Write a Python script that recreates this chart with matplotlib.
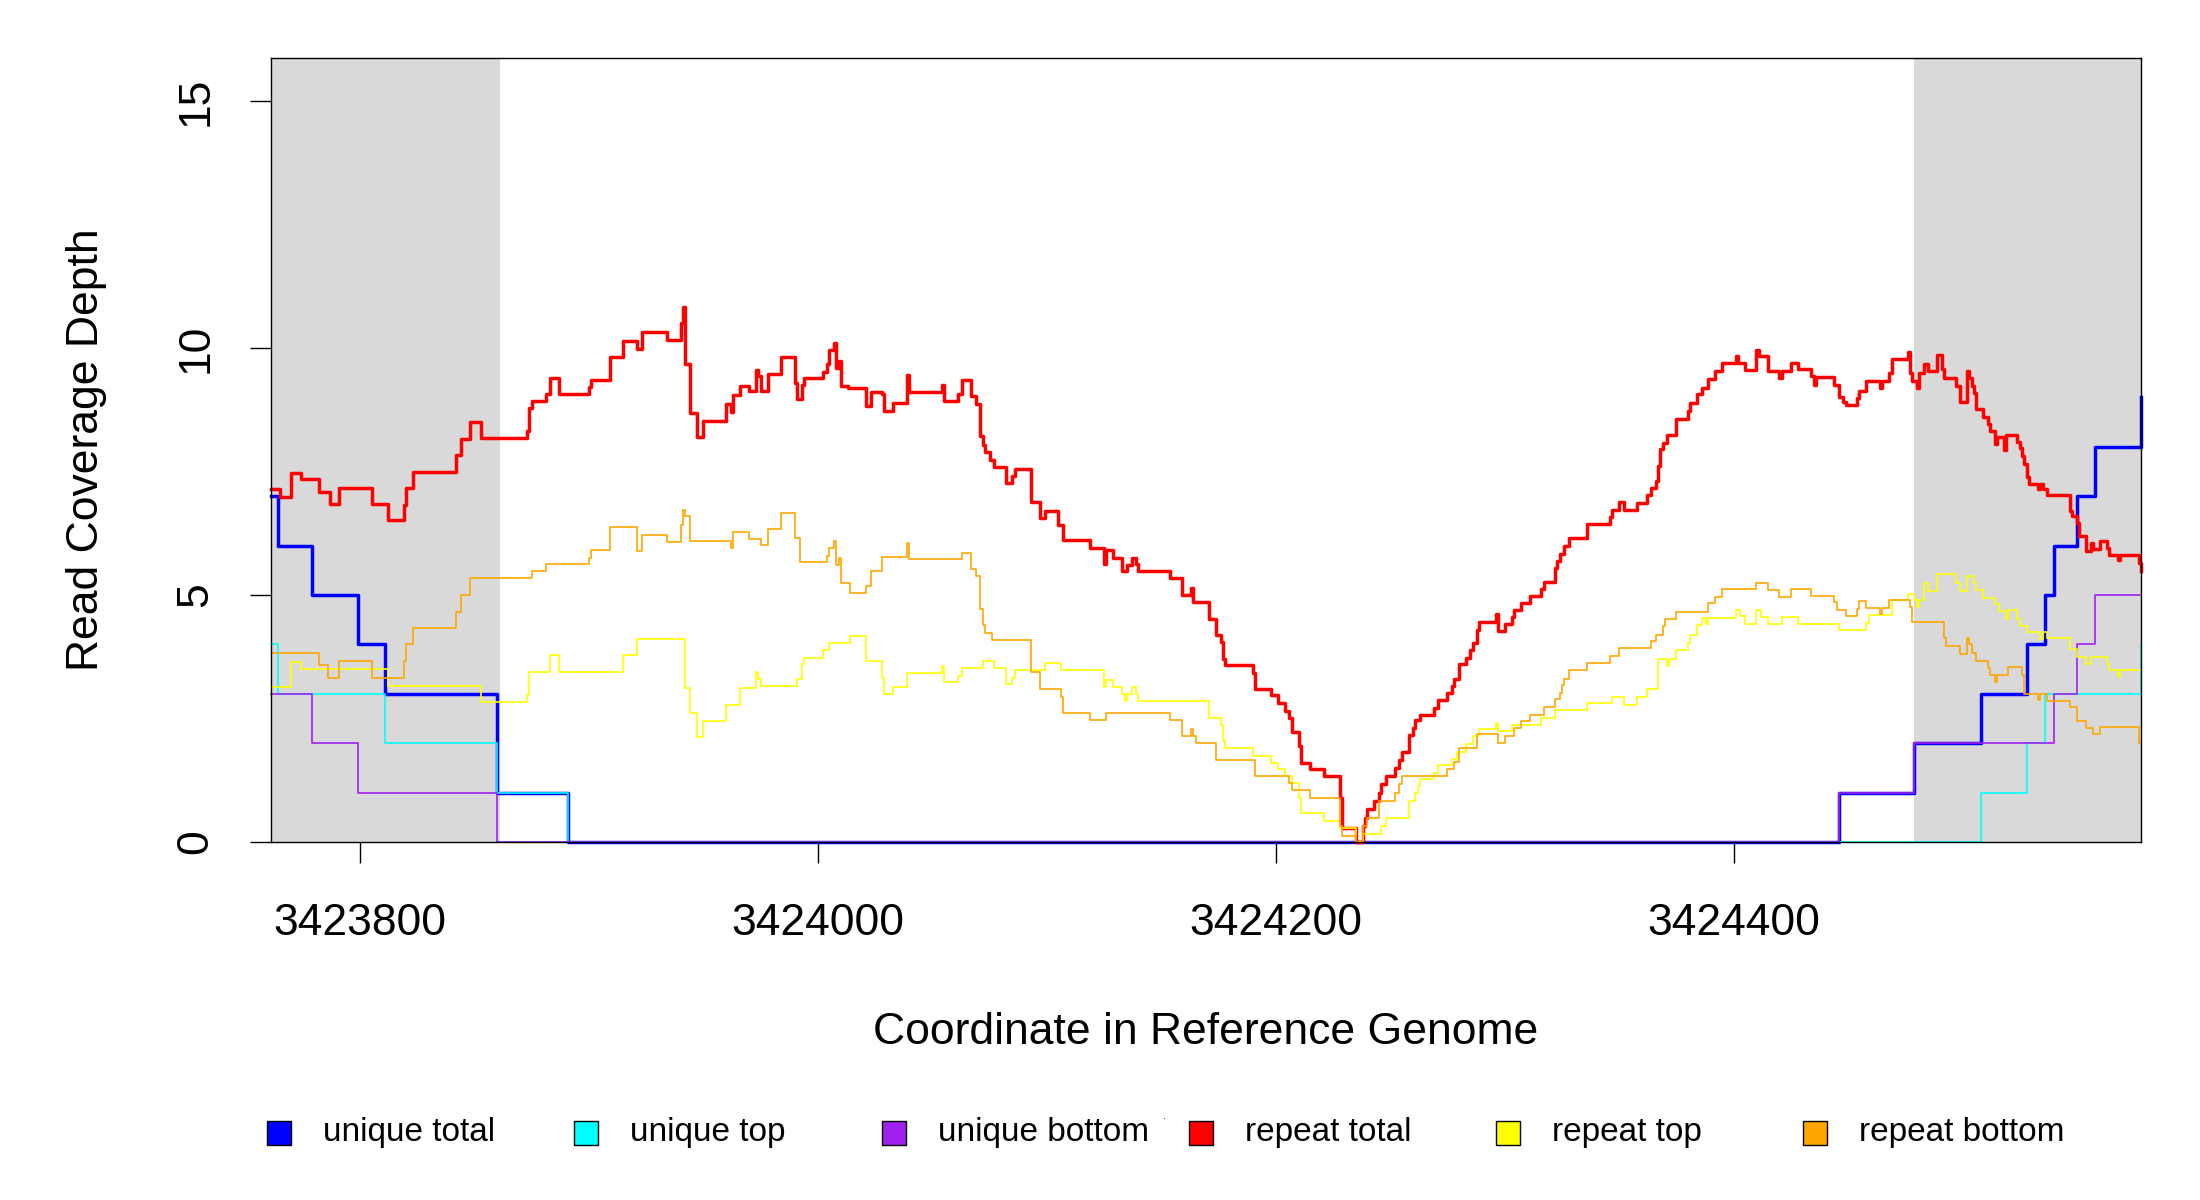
import matplotlib
matplotlib.use("Agg")
import matplotlib.pyplot as plt
from matplotlib.patches import Rectangle

plt.rcParams['font.family'] = ['Liberation Sans', 'DejaVu Sans']

# region shown, and the two 100 bp flanks shaded grey
x_start, x_end = 3423761, 3424578
flank_left = (3423761, 3423861)
flank_right = (3424479, 3424578)
x_ticks = [3423800, 3424000, 3424200, 3424400]
y_ticks = [0, 5, 10, 15]

# step data: depth holds from pos[i] up to pos[i+1]
unique_total_pos = [3423761, 3423764, 3423779, 3423799, 3423811, 3423860, 3423891,
                    3424446, 3424479, 3424508, 3424528, 3424536, 3424540, 3424550,
                    3424558, 3424578]
unique_total_depth = [7, 6, 5, 4, 3, 1, 0, 1, 2, 3, 4, 5, 6, 7, 8, 9]

unique_top_pos = [3423761, 3423764, 3423811, 3423860, 3423891, 3424508, 3424528,
                  3424536, 3424578]
unique_top_depth = [4, 3, 2, 1, 0, 1, 2, 3, 4]

unique_bottom_pos = [3423761, 3423779, 3423799, 3423860, 3424446, 3424479, 3424540,
                     3424550, 3424558, 3424578]
unique_bottom_depth = [3, 2, 1, 0, 1, 2, 3, 4, 5, 5]

repeat_total_pos = [
    3423761, 3423765, 3423770, 3423774, 3423782, 3423787, 3423791, 3423805, 3423812,
    3423819, 3423820, 3423823, 3423842, 3423844, 3423848, 3423853, 3423873, 3423874,
    3423875, 3423881, 3423883, 3423887, 3423900, 3423901, 3423909, 3423915, 3423921,
    3423923, 3423934, 3423940, 3423941, 3423942, 3423944, 3423947, 3423950, 3423960,
    3423962, 3423963, 3423966, 3423970, 3423973, 3423974, 3423975, 3423978, 3423984,
    3423990, 3423991, 3423993, 3423994, 3424002, 3424004, 3424005, 3424007, 3424008,
    3424009, 3424010, 3424013, 3424021, 3424023, 3424028, 3424029, 3424033, 3424039,
    3424040, 3424054, 3424055, 3424061, 3424063, 3424067, 3424069, 3424071, 3424072,
    3424073, 3424075, 3424077, 3424082, 3424085, 3424086, 3424093, 3424097, 3424099,
    3424105, 3424107, 3424119, 3424125, 3424126, 3424129, 3424133, 3424135, 3424137,
    3424139, 3424140, 3424154, 3424159, 3424163, 3424164, 3424171, 3424174, 3424176,
    3424177, 3424178, 3424190, 3424191, 3424198, 3424201, 3424204, 3424206, 3424207,
    3424210, 3424211, 3424215, 3424221, 3424228, 3424229, 3424235, 3424238, 3424239,
    3424240, 3424243, 3424245, 3424246, 3424248, 3424252, 3424254, 3424255, 3424258,
    3424260, 3424261, 3424263, 3424269, 3424271, 3424275, 3424277, 3424278, 3424280,
    3424283, 3424285, 3424286, 3424288, 3424289, 3424296, 3424297, 3424300, 3424303,
    3424304, 3424307, 3424311, 3424316, 3424317, 3424322, 3424323, 3424324, 3424326,
    3424328, 3424336, 3424346, 3424347, 3424350, 3424352, 3424358, 3424362, 3424364,
    3424366, 3424367, 3424368, 3424369, 3424371, 3424375, 3424380, 3424381, 3424384,
    3424386, 3424389, 3424392, 3424395, 3424401, 3424402, 3424405, 3424410, 3424411,
    3424415, 3424420, 3424421, 3424425, 3424428, 3424434, 3424435, 3424436, 3424444,
    3424446, 3424448, 3424449, 3424454, 3424455, 3424458, 3424464, 3424465, 3424468,
    3424469, 3424476, 3424477, 3424478, 3424480, 3424481, 3424483, 3424485, 3424489,
    3424491, 3424492, 3424497, 3424499, 3424502, 3424503, 3424504, 3424505, 3424506,
    3424509, 3424511, 3424512, 3424514, 3424515, 3424518, 3424519, 3424524, 3424525,
    3424526, 3424527, 3424528, 3424529, 3424533, 3424534, 3424535, 3424537, 3424547,
    3424548, 3424550, 3424551, 3424554, 3424556, 3424557, 3424560, 3424563, 3424564,
    3424568, 3424569, 3424577, 3424578]
repeat_total_depth = [
    7.15, 6.98, 7.47, 7.34, 7.09, 6.84, 7.17, 6.85, 6.51,
    6.83, 7.16, 7.49, 7.83, 8.16, 8.50, 8.17, 8.33, 8.78,
    8.92, 9.07, 9.40, 9.07, 9.21, 9.35, 9.81, 10.15, 9.98,
    10.32, 10.16, 10.50, 10.84, 9.68, 8.69, 8.19, 8.52, 8.86,
    8.71, 9.04, 9.23, 9.14, 9.56, 9.43, 9.14, 9.48, 9.81,
    9.30, 8.96, 9.25, 9.40, 9.52, 9.67, 9.97, 10.10, 9.60,
    9.73, 9.24, 9.20, 8.83, 9.12, 9.06, 8.73, 8.88, 9.45,
    9.12, 9.25, 8.93, 9.06, 9.36, 9.03, 8.87, 8.22, 8.04,
    7.89, 7.74, 7.60, 7.26, 7.41, 7.55, 6.89, 6.56, 6.70,
    6.41, 6.11, 5.96, 5.62, 5.91, 5.76, 5.49, 5.60, 5.76,
    5.62, 5.49, 5.34, 5.00, 5.15, 4.86, 4.52, 4.20, 4.04,
    3.70, 3.58, 3.43, 3.09, 2.97, 2.81, 2.65, 2.52, 2.23,
    1.94, 1.61, 1.47, 1.34, 0.90, 0.28, 0.00, 0.32, 0.49,
    0.66, 0.83, 1.00, 1.17, 1.34, 1.50, 1.67, 1.83, 2.16,
    2.31, 2.47, 2.58, 2.72, 2.87, 3.02, 3.16, 3.31, 3.60,
    3.73, 3.89, 4.02, 4.30, 4.45, 4.61, 4.27, 4.41, 4.56,
    4.70, 4.84, 4.98, 5.13, 5.26, 5.55, 5.69, 5.84, 5.99,
    6.15, 6.44, 6.59, 6.72, 6.88, 6.72, 6.87, 7.02, 7.17,
    7.31, 7.61, 7.95, 8.08, 8.23, 8.56, 8.72, 8.89, 9.06,
    9.20, 9.38, 9.53, 9.70, 9.83, 9.70, 9.55, 9.97, 9.84,
    9.54, 9.40, 9.54, 9.69, 9.57, 9.43, 9.26, 9.42, 9.26,
    9.00, 8.90, 8.84, 8.99, 9.14, 9.33, 9.19, 9.33, 9.50,
    9.77, 9.93, 9.50, 9.33, 9.19, 9.50, 9.67, 9.54, 9.86,
    9.57, 9.40, 9.23, 8.91, 9.54, 9.40, 9.23, 9.09, 8.77,
    8.61, 8.46, 8.32, 8.05, 8.20, 7.93, 8.24, 8.10, 7.97,
    7.82, 7.66, 7.39, 7.25, 7.15, 7.25, 7.15, 7.02, 6.70,
    6.61, 6.46, 6.20, 5.90, 6.05, 5.93, 6.09, 5.95, 5.82,
    5.71, 5.82, 5.65, 5.49]

repeat_top_pos = [
    3423761, 3423770, 3423774, 3423812, 3423853, 3423873, 3423874, 3423883, 3423887,
    3423915, 3423921, 3423942, 3423944, 3423947, 3423950, 3423960, 3423966, 3423973,
    3423974, 3423975, 3423991, 3423993, 3423994, 3424002, 3424005, 3424014, 3424021,
    3424028, 3424029, 3424033, 3424039, 3424054, 3424055, 3424061, 3424063, 3424072,
    3424077, 3424082, 3424085, 3424086, 3424099, 3424106, 3424125, 3424126, 3424129,
    3424133, 3424134, 3424135, 3424137, 3424139, 3424140, 3424171, 3424176, 3424177,
    3424178, 3424190, 3424198, 3424201, 3424204, 3424207, 3424210, 3424211, 3424221,
    3424228, 3424235, 3424238, 3424246, 3424248, 3424258, 3424261, 3424262, 3424263,
    3424269, 3424271, 3424277, 3424279, 3424283, 3424286, 3424289, 3424296, 3424297,
    3424303, 3424316, 3424322, 3424336, 3424347, 3424352, 3424358, 3424362, 3424367,
    3424371, 3424372, 3424375, 3424380, 3424381, 3424384, 3424386, 3424388, 3424389,
    3424401, 3424403, 3424405, 3424410, 3424412, 3424415, 3424421, 3424428, 3424446,
    3424458, 3424459, 3424469, 3424476, 3424479, 3424480, 3424481, 3424483, 3424485,
    3424489, 3424497, 3424499, 3424502, 3424505, 3424506, 3424509, 3424514, 3424516,
    3424519, 3424520, 3424524, 3424525, 3424528, 3424534, 3424535, 3424537, 3424547,
    3424550, 3424554, 3424556, 3424563, 3424564, 3424568, 3424569, 3424578]
repeat_top_depth = [
    3.14, 3.64, 3.50, 3.16, 2.84, 2.97, 3.45, 3.79, 3.45,
    3.79, 4.12, 3.11, 2.62, 2.13, 2.45, 2.77, 3.11, 3.44,
    3.31, 3.16, 3.31, 3.60, 3.73, 3.88, 4.02, 4.17, 3.66,
    3.33, 3.00, 3.14, 3.43, 3.56, 3.24, 3.37, 3.52, 3.66,
    3.52, 3.19, 3.33, 3.48, 3.62, 3.48, 3.14, 3.28, 3.14,
    2.99, 2.85, 2.99, 3.14, 2.99, 2.85, 2.52, 2.37, 2.04,
    1.91, 1.75, 1.61, 1.47, 1.34, 1.19, 0.90, 0.58, 0.43,
    0.29, 0.00, 0.16, 0.32, 0.49, 0.83, 1.00, 1.13, 1.27,
    1.40, 1.55, 1.69, 1.82, 1.98, 2.15, 2.28, 2.40, 2.25,
    2.37, 2.52, 2.67, 2.81, 2.94, 2.77, 2.94, 3.09, 3.71,
    3.56, 3.71, 3.88, 4.03, 4.20, 4.39, 4.54, 4.41, 4.54,
    4.70, 4.57, 4.42, 4.70, 4.55, 4.42, 4.55, 4.42, 4.29,
    4.43, 4.59, 4.89, 5.03, 4.89, 4.76, 4.89, 5.24, 5.09,
    5.42, 5.25, 5.09, 5.39, 5.25, 5.11, 4.94, 4.81, 4.67,
    4.52, 4.69, 4.52, 4.38, 4.26, 4.12, 4.26, 4.14, 3.90,
    3.75, 3.60, 3.75, 3.60, 3.48, 3.34, 3.48, 3.48]

repeat_bottom_pos = [
    3423761, 3423782, 3423786, 3423791, 3423805, 3423819, 3423820, 3423823, 3423842,
    3423844, 3423848, 3423875, 3423881, 3423900, 3423901, 3423909, 3423921, 3423923,
    3423934, 3423940, 3423941, 3423942, 3423944, 3423962, 3423963, 3423970, 3423975,
    3423978, 3423984, 3423990, 3423992, 3424004, 3424005, 3424007, 3424008, 3424009,
    3424010, 3424014, 3424021, 3424023, 3424028, 3424039, 3424040, 3424063, 3424067,
    3424069, 3424071, 3424072, 3424073, 3424076, 3424093, 3424097, 3424106, 3424107,
    3424119, 3424126, 3424154, 3424159, 3424163, 3424164, 3424165, 3424174, 3424191,
    3424206, 3424207, 3424215, 3424228, 3424229, 3424235, 3424238, 3424240, 3424245,
    3424252, 3424254, 3424255, 3424275, 3424278, 3424280, 3424288, 3424297, 3424300,
    3424304, 3424307, 3424311, 3424317, 3424322, 3424324, 3424325, 3424326, 3424328,
    3424336, 3424346, 3424350, 3424364, 3424366, 3424369, 3424370, 3424375, 3424389,
    3424392, 3424395, 3424410, 3424415, 3424420, 3424425, 3424434, 3424444, 3424445,
    3424449, 3424454, 3424455, 3424458, 3424464, 3424465, 3424468, 3424477, 3424478,
    3424492, 3424493, 3424499, 3424502, 3424503, 3424504, 3424506, 3424511, 3424512,
    3424514, 3424515, 3424520, 3424526, 3424527, 3424533, 3424534, 3424537, 3424547,
    3424550, 3424554, 3424557, 3424560, 3424577, 3424578]
repeat_bottom_depth = [
    3.83, 3.58, 3.33, 3.66, 3.33, 3.66, 4.00, 4.33, 4.66,
    5.00, 5.34, 5.49, 5.62, 5.76, 5.91, 6.38, 5.89, 6.21,
    6.07, 6.41, 6.73, 6.60, 6.09, 5.96, 6.28, 6.14, 6.01,
    6.33, 6.67, 6.16, 5.67, 5.80, 5.96, 6.09, 5.60, 5.74,
    5.24, 5.05, 5.18, 5.49, 5.77, 6.05, 5.72, 5.86, 5.53,
    5.38, 4.72, 4.39, 4.24, 4.09, 3.44, 3.09, 2.94, 2.62,
    2.48, 2.62, 2.48, 2.15, 2.28, 2.15, 2.00, 1.66, 1.34,
    1.20, 1.05, 0.90, 0.32, 0.13, 0.00, 0.32, 0.49, 0.83,
    0.99, 1.17, 1.34, 1.48, 1.62, 1.91, 2.18, 2.01, 2.15,
    2.31, 2.45, 2.58, 2.73, 2.89, 3.02, 3.17, 3.31, 3.48,
    3.62, 3.77, 3.92, 4.07, 4.20, 4.37, 4.52, 4.66, 4.83,
    4.96, 5.13, 5.25, 5.11, 4.96, 5.13, 4.98, 4.86, 4.70,
    4.57, 4.72, 4.88, 4.74, 4.62, 4.74, 4.89, 4.76, 4.45,
    4.14, 3.97, 3.80, 4.13, 4.00, 3.82, 3.67, 3.53, 3.39,
    3.24, 3.39, 3.55, 3.39, 3.00, 2.87, 3.00, 2.86, 2.74,
    2.45, 2.31, 2.18, 2.32, 2.01, 2.01]

series = [
    ("unique total", unique_total_pos, unique_total_depth, "#0000FF", 2.5),
    ("unique top", unique_top_pos, unique_top_depth, "#00FFFF", 1.2),
    ("unique bottom", unique_bottom_pos, unique_bottom_depth, "#A020F0", 1.2),
    ("repeat total", repeat_total_pos, repeat_total_depth, "#FF0000", 2.5),
    ("repeat top", repeat_top_pos, repeat_top_depth, "#FFFF00", 1.2),
    ("repeat bottom", repeat_bottom_pos, repeat_bottom_depth, "#FFA500", 1.2),
]

fig = plt.figure(figsize=(22, 12), dpi=100)
ax = fig.add_axes([0.1231, 0.2983, 0.8501, 0.6537])

ax.axvspan(*flank_left, color="#D9D9D9", lw=0, zorder=0)
ax.axvspan(*flank_right, color="#D9D9D9", lw=0, zorder=0)

for name, pos, depth, col, lw in series:
    ax.step(pos, depth, where="post", color=col, lw=lw, clip_on=False, zorder=2)

ax.set_xlim(x_start, x_end)
ax.set_ylim(0, 15.88)
ax.set_xticks(x_ticks)
ax.set_xticklabels([str(t) for t in x_ticks])
ax.set_yticks(y_ticks)
ax.set_yticklabels([str(t) for t in y_ticks], rotation=90, va="center")

for s in ax.spines.values():
    s.set_linewidth(1.0)
ax.tick_params(axis="both", length=15, width=1.0, labelsize=32, direction="out")
ax.tick_params(axis="x", pad=29)
ax.tick_params(axis="y", pad=24)

ax.set_xlabel("Coordinate in Reference Genome", fontsize=32)
ax.set_ylabel("Read Coverage Depth", fontsize=32)
ax.xaxis.set_label_coords(0.5, -0.243)
ax.xaxis.label.set_va("center")
ax.yaxis.set_label_coords(-0.0983, 0.5)
ax.yaxis.label.set_va("center")

# legend row along the bottom
leg_x = [279, 586, 894, 1201, 1508, 1815]
leg_y = 1133
W, H = 2200.0, 1200.0
sq = 24
for (name, pos, depth, col, lw), lx in zip(series, leg_x):
    fig.add_artist(Rectangle(((lx - sq / 2) / W, 1 - (leg_y + sq / 2) / H), sq / W, sq / H,
                             transform=fig.transFigure, facecolor=col,
                             edgecolor="black", lw=1.0))
    fig.text((lx + 44) / W, 1 - leg_y / H, name, fontsize=24, va="center", ha="left")
fig.text(1165 / W, 1 - 1116 / H, ".", fontsize=8, ha="center", va="center")

fig.savefig("out.png", dpi=100, facecolor="white")
